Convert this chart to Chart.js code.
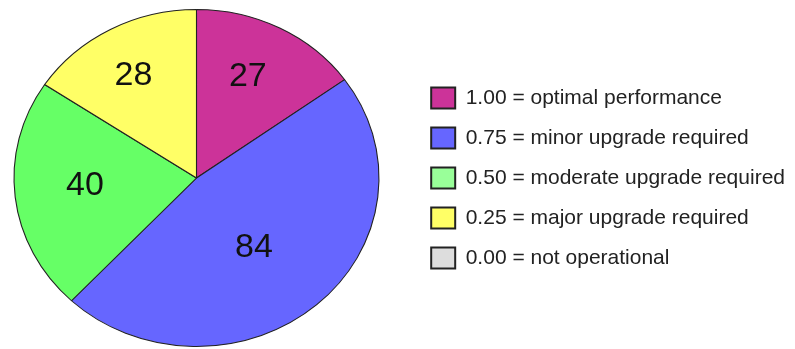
<!DOCTYPE html>
<html>
<head>
<meta charset="utf-8">
<script src="https://cdn.jsdelivr.net/npm/chart.js@4/dist/chart.umd.min.js"></script>
<style>
    html, body { margin: 0; padding: 0; background: #ffffff; }
    #wrap { width: 795px; height: 349px; position: relative; }
</style>
</head>
<body>
<div id="wrap"><canvas id="statusChart"></canvas></div>
<script>
// ===== STATUS PIE =====

// Categories, counts and colours
const categories = [
    '1.00 = optimal performance',
    '0.75 = minor upgrade required',
    '0.50 = moderate upgrade required',
    '0.25 = major upgrade required',
    '0.00 = not operational'
];
const counts = [27, 84, 40, 28, 0];
const sliceColors = ['#CC3399', '#6666FF', '#66FF66', '#FFFF66', '#DDDDDD'];
const legendColors = ['#CC3399', '#6666FF', '#99FF99', '#FFFF66', '#DDDDDD'];

// Stretches the pie into an ellipse anchored at the chart area's left edge,
// then writes the counts inside the slices
const ellipsePie = {
    id: 'ellipsePie',
    beforeDatasetsDraw(chart, args, opts) {
        const arc = chart.getDatasetMeta(0).data[0];
        if (!arc) return;
        const ctx = chart.ctx;
        ctx.save();
        ctx.translate(chart.chartArea.left, 0);
        ctx.scale(opts.scaleX, 1);
        ctx.translate(-(arc.x - arc.outerRadius), 0);
    },
    afterDatasetsDraw(chart, args, opts) {
        const ctx = chart.ctx;
        ctx.restore();

        const meta = chart.getDatasetMeta(0);
        const values = chart.data.datasets[0].data;
        ctx.save();
        ctx.font = opts.fontSize + "px 'Liberation Sans', Arial, sans-serif";
        ctx.fillStyle = opts.color;
        ctx.textAlign = 'center';
        ctx.textBaseline = 'alphabetic';
        meta.data.forEach((arc, i) => {
            if (!values[i]) return;
            // label sits near the middle of the slice, nudged a little per slice
            const mid = (arc.startAngle + arc.endAngle) / 2 + opts.labelTurn[i] * Math.PI / 180;
            const dist = arc.outerRadius * opts.labelRadius[i];
            const px = arc.x + Math.cos(mid) * dist;
            const py = arc.y + Math.sin(mid) * dist;
            const left = arc.x - arc.outerRadius;
            const x = chart.chartArea.left + opts.scaleX * (px - left);
            // centre the digits (cap height ~0.716em) on the point
            ctx.fillText(String(values[i]), x, py + opts.fontSize * 0.358);
        });
        ctx.restore();
    }
};

const ctx = document.getElementById('statusChart').getContext('2d');
const statusChart = new Chart(ctx, {
    type: 'pie',
    data: {
        labels: categories,
        datasets: [{
            data: counts,
            backgroundColor: sliceColors,
            borderColor: '#222222',
            borderWidth: 1
        }]
    },
    options: {
        responsive: true,
        maintainAspectRatio: false,
        animation: false,
        layout: {
            padding: { top: 9, bottom: 2, left: 14, right: 0 }
        },
        plugins: {
            legend: {
                position: 'right',
                maxWidth: 383,
                labels: {
                    boxWidth: 24,
                    boxHeight: 21,
                    padding: 19,
                    color: '#222222',
                    font: { family: "'Liberation Sans', Arial, sans-serif", size: 21 },
                    generateLabels: function(chart) {
                        return chart.data.labels.map((text, i) => ({
                            text: text,
                            fillStyle: legendColors[i],
                            strokeStyle: '#222222',
                            lineWidth: 2,
                            fontColor: '#222222',
                            hidden: false,
                            index: i
                        }));
                    }
                },
                onClick: null
            },
            tooltip: { enabled: false },
            ellipsePie: {
                scaleX: 1.083,
                labelRadius: [0.68, 0.506, 0.612, 0.714, 0.6],
                labelTurn: [-2.7, 2.8, 4, -0.8, 0],
                fontSize: 34,
                color: '#111111'
            }
        }
    },
    plugins: [ellipsePie]
});
</script>
</body>
</html>
